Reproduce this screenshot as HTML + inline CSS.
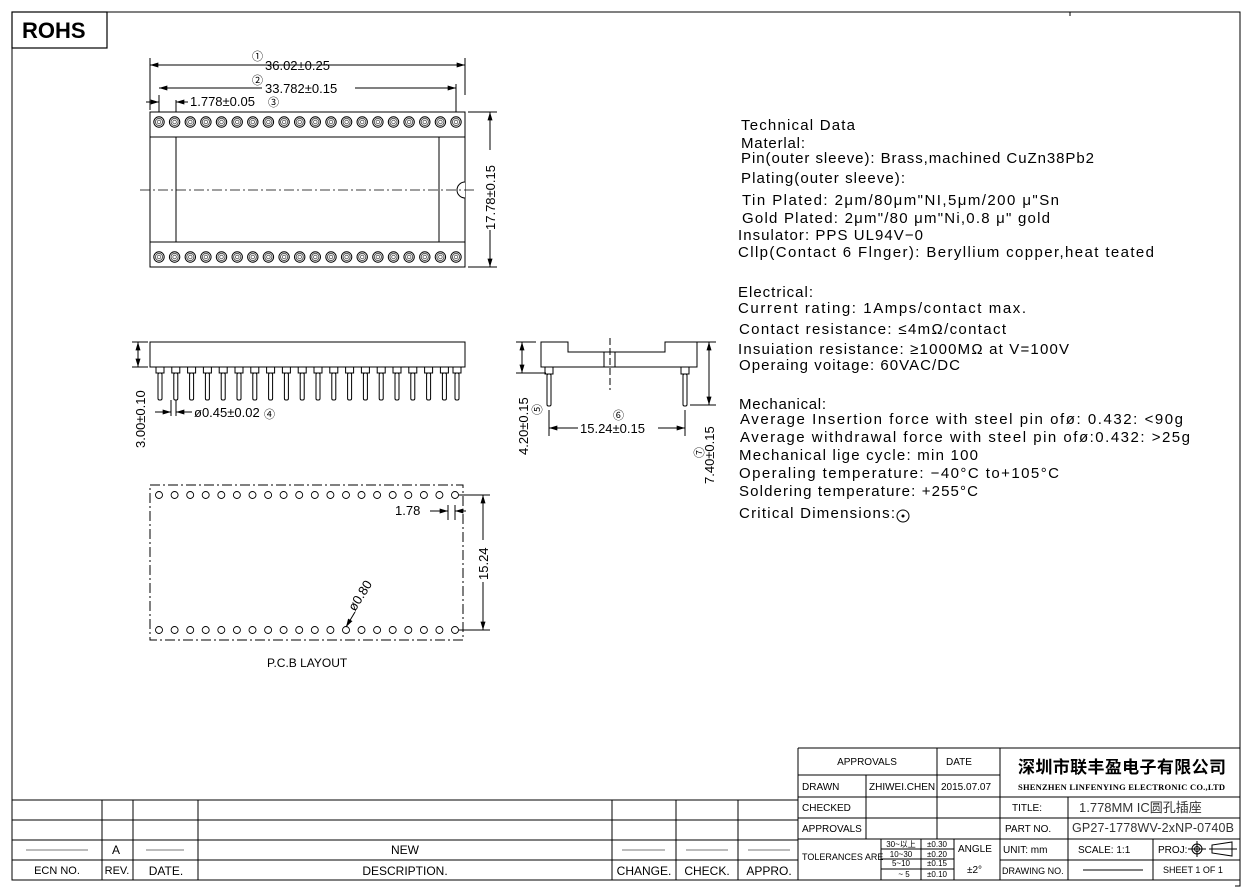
<!DOCTYPE html>
<html><head><meta charset="utf-8"><style>
body{margin:0;background:#fff}
svg{display:block}
text{font-family:"Liberation Sans","Noto Sans CJK SC",sans-serif;fill:#000}
.t{font-size:15px}
.s{font-size:11px}
</style></head><body>
<svg width="1253" height="894" viewBox="0 0 1253 894" xmlns="http://www.w3.org/2000/svg">
<defs>
<marker id="a" viewBox="0 0 10 6" refX="10" refY="3" markerWidth="9" markerHeight="5" orient="auto-start-reverse" markerUnits="userSpaceOnUse"><path d="M0,0L10,3L0,6z" fill="#000"/></marker>
<g id="pin"><circle r="5.2" fill="none" stroke="#000" stroke-width="1"/><circle r="3.6" fill="none" stroke="#555" stroke-width="1"/><circle r="1.8" fill="none" stroke="#555" stroke-width="0.8"/></g>
<g id="sp"><rect x="-4" y="0" width="8" height="6" fill="none" stroke="#000"/><rect x="-2" y="6" width="4" height="27" rx="1.5" fill="none" stroke="#000"/></g>
<circle id="h" r="3.5" fill="none" stroke="#000" stroke-width="0.9"/>
</defs>
<g fill="none" stroke="#000" stroke-width="1">
<path d="M12 12H1240V880M12 12V880H1240"/>
<path d="M1070 12v4M1235 886h5v-8"/>
<rect x="12" y="12" width="95" height="36" stroke-width="1.2"/>
<rect x="150" y="112" width="315" height="155"/>
<path d="M150 137H465M150 242H465M176 137V242M439 137V242"/>
<path d="M465 182a8 8 0 0 0 0 16" fill="#fff"/>
<path d="M140 190H475" stroke-dasharray="10,3,2,3" stroke-width="0.8"/>
<path d="M150 58V110M465 58V95M159 95V112M456 84V112M176 100V112"/>
<path d="M150 65H465" marker-start="url(#a)" marker-end="url(#a)"/>
<path d="M159 88H456" marker-start="url(#a)" marker-end="url(#a)"/>
<path d="M146 102H159" marker-end="url(#a)"/><path d="M188 102H176" marker-end="url(#a)"/>
<path d="M468 112H497M468 267H497"/>
<path d="M490 112V267" marker-start="url(#a)" marker-end="url(#a)"/>
<rect x="150" y="342" width="315" height="25"/>
<path d="M132 342H148M132 367H148"/>
<path d="M138 342V367" marker-start="url(#a)" marker-end="url(#a)"/>
<path d="M171 400V416M176 400V416"/>
<path d="M155 412H171" marker-end="url(#a)"/><path d="M192 412H176" marker-end="url(#a)"/>
<path d="M541 342H568V352H665V342H697V367H541Z"/>
<path d="M604 352V367M615 352V367"/>
<path d="M610 338V390" stroke-dasharray="7,3"/>
<rect x="545" y="367" width="8" height="7"/><rect x="547" y="374" width="4" height="32" rx="1.5"/>
<rect x="681" y="367" width="8" height="7"/><rect x="683" y="374" width="4" height="32" rx="1.5"/>
<path d="M516 342H536M516 373H546M692 342H716M690 405H716"/>
<path d="M522 342V373" marker-start="url(#a)" marker-end="url(#a)"/>
<path d="M709 342V405" marker-start="url(#a)" marker-end="url(#a)"/>
<path d="M549 410V436M685 410V436"/>
<path d="M549 428H685" marker-start="url(#a)" marker-end="url(#a)"/>
<rect x="150" y="485" width="313" height="155" stroke-dasharray="10,3,2,3"/>
<path d="M459 495H490M459 630H490"/>
<path d="M483 495V630" marker-start="url(#a)" marker-end="url(#a)"/>
<path d="M448 505V520M455 505V520"/>
<path d="M430 511H448" marker-end="url(#a)"/><path d="M466 511H455" marker-end="url(#a)"/>
<path d="M355 612L346 627" marker-end="url(#a)"/>
<path d="M12 800H798M12 820H798M12 840H798M12 860H798"/>
<path d="M102 800V880M133 800V880M198 800V880M612 800V880M676 800V880M738 800V880"/>
<path d="M26 850H88M146 850H184M622 850H665M686 850H728M748 850H790" stroke="#777"/>
<path d="M798 748H1240M798 748V880M798 775H1000M798 797H1240M798 818H1240M798 839H1240M1000 860H1240"/>
<path d="M866 775V839M937 748V839M1000 748V880M1068 797V880M1153 839V880"/>
<path d="M881 839V880M921 839V880M954 839V880M881 849H954M881 859H954M881 869H954"/>
<path d="M1083 870H1143" stroke="#000"/>
<circle cx="1197" cy="849" r="5"/><circle cx="1197" cy="849" r="2.5"/>
<path d="M1188 849H1206M1197 841V857M1212 845V853L1232 856V842ZM1209 849H1237"/>
</g>
<g>
<use href="#pin" x="159" y="122"/><use href="#pin" x="174.6" y="122"/><use href="#pin" x="190.3" y="122"/><use href="#pin" x="205.9" y="122"/><use href="#pin" x="221.5" y="122"/><use href="#pin" x="237.2" y="122"/><use href="#pin" x="252.8" y="122"/><use href="#pin" x="268.4" y="122"/><use href="#pin" x="284.1" y="122"/><use href="#pin" x="299.7" y="122"/><use href="#pin" x="315.3" y="122"/><use href="#pin" x="331" y="122"/><use href="#pin" x="346.6" y="122"/><use href="#pin" x="362.2" y="122"/><use href="#pin" x="377.9" y="122"/><use href="#pin" x="393.5" y="122"/><use href="#pin" x="409.1" y="122"/><use href="#pin" x="424.8" y="122"/><use href="#pin" x="440.4" y="122"/><use href="#pin" x="456" y="122"/>
<use href="#pin" x="159" y="257"/><use href="#pin" x="174.6" y="257"/><use href="#pin" x="190.3" y="257"/><use href="#pin" x="205.9" y="257"/><use href="#pin" x="221.5" y="257"/><use href="#pin" x="237.2" y="257"/><use href="#pin" x="252.8" y="257"/><use href="#pin" x="268.4" y="257"/><use href="#pin" x="284.1" y="257"/><use href="#pin" x="299.7" y="257"/><use href="#pin" x="315.3" y="257"/><use href="#pin" x="331" y="257"/><use href="#pin" x="346.6" y="257"/><use href="#pin" x="362.2" y="257"/><use href="#pin" x="377.9" y="257"/><use href="#pin" x="393.5" y="257"/><use href="#pin" x="409.1" y="257"/><use href="#pin" x="424.8" y="257"/><use href="#pin" x="440.4" y="257"/><use href="#pin" x="456" y="257"/>
</g>
<g>
<use href="#sp" x="160" y="367"/><use href="#sp" x="175.8" y="367"/><use href="#sp" x="191.6" y="367"/><use href="#sp" x="207.4" y="367"/><use href="#sp" x="223.2" y="367"/><use href="#sp" x="239" y="367"/><use href="#sp" x="254.8" y="367"/><use href="#sp" x="270.6" y="367"/><use href="#sp" x="286.4" y="367"/><use href="#sp" x="302.2" y="367"/><use href="#sp" x="318" y="367"/><use href="#sp" x="333.8" y="367"/><use href="#sp" x="349.6" y="367"/><use href="#sp" x="365.4" y="367"/><use href="#sp" x="381.2" y="367"/><use href="#sp" x="397" y="367"/><use href="#sp" x="412.8" y="367"/><use href="#sp" x="428.6" y="367"/><use href="#sp" x="444.4" y="367"/><use href="#sp" x="457" y="367"/>
</g>
<g>
<use href="#h" x="159" y="495"/><use href="#h" x="174.6" y="495"/><use href="#h" x="190.2" y="495"/><use href="#h" x="205.7" y="495"/><use href="#h" x="221.3" y="495"/><use href="#h" x="236.9" y="495"/><use href="#h" x="252.5" y="495"/><use href="#h" x="268.1" y="495"/><use href="#h" x="283.6" y="495"/><use href="#h" x="299.2" y="495"/><use href="#h" x="314.8" y="495"/><use href="#h" x="330.4" y="495"/><use href="#h" x="346" y="495"/><use href="#h" x="361.5" y="495"/><use href="#h" x="377.1" y="495"/><use href="#h" x="392.7" y="495"/><use href="#h" x="408.3" y="495"/><use href="#h" x="423.9" y="495"/><use href="#h" x="439.4" y="495"/><use href="#h" x="455" y="495"/>
<use href="#h" x="159" y="630"/><use href="#h" x="174.6" y="630"/><use href="#h" x="190.2" y="630"/><use href="#h" x="205.7" y="630"/><use href="#h" x="221.3" y="630"/><use href="#h" x="236.9" y="630"/><use href="#h" x="252.5" y="630"/><use href="#h" x="268.1" y="630"/><use href="#h" x="283.6" y="630"/><use href="#h" x="299.2" y="630"/><use href="#h" x="314.8" y="630"/><use href="#h" x="330.4" y="630"/><use href="#h" x="346" y="630"/><use href="#h" x="361.5" y="630"/><use href="#h" x="377.1" y="630"/><use href="#h" x="392.7" y="630"/><use href="#h" x="408.3" y="630"/><use href="#h" x="423.9" y="630"/><use href="#h" x="439.4" y="630"/><use href="#h" x="455" y="630"/>
</g>
<text x="22" y="38" style="font-size:22px;font-weight:bold">ROHS</text>
<g style="font-size:13px">
<rect x="259" y="67" width="110" height="6" fill="#fff"/>
<text x="252" y="60" class="s">①</text><text x="265" y="70">36.02±0.25</text>
<rect x="262" y="84" width="93" height="6" fill="#fff"/>
<text x="252" y="84" class="s">②</text><text x="265" y="93">33.782±0.15</text>
<text x="190" y="106">1.778±0.05</text><text x="268" y="106" class="s">③</text>
<rect x="484" y="150" width="12" height="80" fill="#fff"/>
<text transform="translate(495,230) rotate(-90)">17.78±0.15</text>
<rect x="132" y="378" width="12" height="70" fill="#fff"/>
<text transform="translate(145,448) rotate(-90)">3.00±0.10</text>
<text x="194" y="417">ø0.45±0.02</text><text x="264" y="418" class="s">④</text>
<text transform="translate(528,455) rotate(-90)">4.20±0.15</text>
<text transform="translate(541,415) rotate(-90)" class="s">⑤</text>
<text x="613" y="419" class="s">⑥</text>
<rect x="578" y="422" width="80" height="12" fill="#fff"/>
<text x="580" y="433">15.24±0.15</text>
<rect x="703" y="410" width="12" height="75" fill="#fff"/>
<text transform="translate(714,484) rotate(-90)">7.40±0.15</text>
<text transform="translate(703,458) rotate(-90)" class="s">⑦</text>
<text x="395" y="515">1.78</text>
<rect x="477" y="540" width="12" height="42" fill="#fff"/>
<text transform="translate(488,580) rotate(-90)">15.24</text>
<text transform="translate(355,612) rotate(-58)">ø0.80</text>
<text x="267" y="667" style="font-size:12px">P.C.B LAYOUT</text>
</g>
<g class="t" style="font-size:15px">
<text x="741" y="130" textLength="114">Technical Data</text>
<text x="741" y="148" textLength="64">Materlal:</text>
<text x="741" y="163" textLength="353">Pin(outer sleeve): Brass,machined CuZn38Pb2</text>
<text x="741" y="183" textLength="164">Plating(outer sleeve):</text>
<text x="742" y="205" textLength="317">Tin Plated: 2μm/80μm"NI,5μm/200 μ"Sn</text>
<text x="742" y="223" textLength="308">Gold Plated: 2μm"/80 μm"Ni,0.8 μ" gold</text>
<text x="738" y="240" textLength="185">Insulator: PPS UL94V−0</text>
<text x="738" y="257" textLength="416">Cllp(Contact 6 Flnger): Beryllium copper,heat teated</text>
<text x="738" y="297" textLength="75">Electrical:</text>
<text x="738" y="313" textLength="288">Current rating: 1Amps/contact max.</text>
<text x="739" y="334" textLength="267">Contact resistance: ≤4mΩ/contact</text>
<text x="738" y="354" textLength="331">Insuiation resistance: ≥1000MΩ at V=100V</text>
<text x="739" y="370" textLength="221">Operaing voitage: 60VAC/DC</text>
<text x="739" y="409" textLength="87">Mechanical:</text>
<text x="740" y="424" textLength="443">Average Insertion force with steel pin ofø: 0.432: &lt;90g</text>
<text x="740" y="442" textLength="450">Average withdrawal force with steel pin ofø:0.432: &gt;25g</text>
<text x="739" y="460" textLength="239">Mechanical lige cycle: min 100</text>
<text x="739" y="478" textLength="320">Operaling temperature: −40°C  to+105°C</text>
<text x="739" y="496" textLength="239">Soldering temperature: +255°C</text>
<text x="739" y="518" textLength="156">Critical Dimensions:</text>
</g>
<circle cx="903" cy="516" r="6" fill="none" stroke="#000"/><circle cx="903" cy="516" r="1.5"/>
<g style="font-size:12px" text-anchor="middle">
<text x="116" y="854">A</text><text x="405" y="854">NEW</text>
<text x="57" y="874" style="font-size:11px">ECN NO.</text><text x="117" y="874" style="font-size:11px">REV.</text>
<text x="166" y="875">DATE.</text><text x="405" y="875">DESCRIPTION.</text>
<text x="644" y="875">CHANGE.</text><text x="707" y="875">CHECK.</text><text x="769" y="875">APPRO.</text>
</g>
<g style="font-size:10px">
<text x="867" y="765" text-anchor="middle">APPROVALS</text>
<text x="959" y="765" text-anchor="middle">DATE</text>
<text x="802" y="790">DRAWN</text><text x="869" y="790">ZHIWEI.CHEN</text><text x="941" y="790">2015.07.07</text>
<text x="802" y="811">CHECKED</text>
<text x="802" y="832">APPROVALS</text>
<text x="802" y="860" style="font-size:9px">TOLERANCES ARE</text>
<text x="1012" y="811" style="font-size:10px">TITLE:</text>
<text x="1005" y="832">PART NO.</text>
<text x="1003" y="853">UNIT: mm</text>
<text x="1002" y="874" style="font-size:9px">DRAWING NO.</text>
<text x="1078" y="853">SCALE:   1:1</text>
<text x="1158" y="853">PROJ:</text>
<text x="1163" y="873" style="font-size:9px">SHEET  1 OF 1</text>
<text x="958" y="852">ANGLE</text>
<text x="967" y="873">±2°</text>
</g>
<g style="font-size:8px" text-anchor="middle">
<text x="901" y="847">30~以上</text><text x="937" y="847">±0.30</text>
<text x="901" y="857">10~30</text><text x="937" y="857">±0.20</text>
<text x="901" y="866">5~10</text><text x="937" y="866">±0.15</text>
<text x="904" y="877">~ 5</text><text x="937" y="877">±0.10</text>
</g>
<text x="1018" y="773" style="font-size:17px;font-weight:bold" textLength="208">深圳市联丰盈电子有限公司</text>
<text x="1018" y="790" style="font-family:'Liberation Serif',serif;font-size:8.5px;font-weight:bold" textLength="207">SHENZHEN LINFENYING ELECTRONIC CO.,LTD</text>
<text x="1079" y="812" style="font-size:13px;fill:#333">1.778MM  IC圆孔插座</text>
<text x="1072" y="832" style="font-size:12.5px;fill:#333" textLength="162">GP27-1778WV-2xNP-0740B</text>
</svg>
</body></html>
